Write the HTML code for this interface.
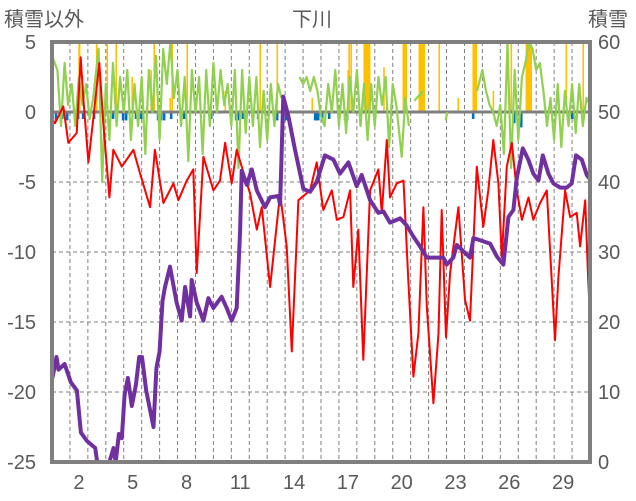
<!DOCTYPE html>
<html><head><meta charset="utf-8"><style>
html,body{margin:0;padding:0;background:#fff;}
svg{display:block;font-family:"Liberation Sans","Noto Sans CJK JP",sans-serif;}
</style></head><body>
<svg id="chart" width="636" height="501" viewBox="0 0 636 501">
<text x="4" y="26" font-size="20" fill="#595959">積雪以外</text>
<text x="312" y="26" font-size="20" fill="#595959" text-anchor="middle">下川</text>
<text x="588" y="26" font-size="20" fill="#595959">積雪</text>
<g id="grid"></g>
<g id="bars"></g>
<g id="lines"></g>
<g id="frame"></g>
<g id="axes"></g>
</svg>
<script>
const leftTicks=[5,0,-5,-10,-15,-20,-25];
const rightTicks=[60,50,40,30,20,10,0];
const dayLabels=[2,5,8,11,14,17,20,23,26,29];
const tempT=[0,0.17,0.63,0.91,1.38,1.6,1.75,2.03,2.31,2.64,2.86,3.2,3.42,3.89,4.54,4.91,5.47,5.74,6.21,6.77,7.05,7.51,7.88,8.07,8.44,9.0,9.37,9.65,10.02,10.3,10.58,11.04,11.42,11.7,12.16,12.72,13.09,13.37,13.74,14.39,14.76,15.13,15.6,15.88,16.25,16.62,16.8,17.08,17.36,17.74,18.2,18.39,18.67,18.85,19.22,19.6,19.87,20.15,20.43,20.71,20.9,21.27,21.55,21.73,21.97,22.2,22.66,23.03,23.31,23.69,24.05,24.33,24.61,24.89,25.08,25.36,25.64,25.92,26.2,26.57,26.84,27.22,27.59,28.05,28.24,28.61,28.89,29.26,29.45,29.73,29.9,30.0];
const tempV=[-0.5,-0.8,0.4,-2.2,-1.5,3.9,0.9,-3.6,-0.4,3.5,-0.8,-6.1,-2.7,-3.9,-2.7,-4.4,-6.8,-2.7,-6.5,-5.1,-6.3,-4.9,-4.1,-11.5,-3.2,-5.6,-4.9,-2.2,-5.1,-2.7,-3.9,-5.8,-8.4,-6.8,-12.5,-5.8,-9.6,-17.1,-6.3,-5.6,-3.6,-7,-5.6,-7.7,-7.5,-5.6,-12.5,-8.4,-17.7,-5.6,-4.1,-7.2,-2,-6.1,-5.1,-4.9,-12,-18.9,-15.8,-6.8,-13.9,-20.8,-15.8,-7,-16.1,-11.5,-6.8,-13.4,-14.9,-3.9,-8.2,-5.6,-2,-5.1,-10.4,-3.9,-2.2,-5.6,-7.7,-6.1,-7.7,-6.5,-5.6,-16.3,-11.8,-5.6,-7.5,-7.2,-9.6,-6.3,-12,-14.6];
const snowT=[0.02,0.25,0.36,0.7,1.05,1.39,1.61,1.95,2.41,2.52,3.2,3.43,3.55,3.73,3.89,4.05,4.23,4.45,4.68,4.86,5.02,5.25,5.66,5.82,6.0,6.16,6.3,6.58,6.95,7.23,7.42,7.7,7.79,8.07,8.44,8.72,9.0,9.46,9.74,10.02,10.3,10.49,10.58,10.86,11.14,11.42,11.88,12.16,12.62,12.72,12.9,13.18,13.55,14.02,14.39,14.76,15.22,15.69,16.06,16.53,16.99,17.27,17.74,18.2,18.48,18.85,19.41,19.78,20.15,20.52,20.9,21.82,22.01,22.38,22.57,23.31,23.5,24.43,24.8,25.17,25.45,25.73,25.92,26.25,26.56,26.84,27.12,27.37,27.68,27.96,28.33,28.7,28.98,29.22,29.54,29.82,30.0];
const snowV=[12,15,13.2,14,11.4,10.2,4.2,3,2,0,0,2,0,4,3.4,9.6,12,8,11,15,15,10.2,5,13.4,15.8,23,25,27.9,22.8,20.2,25,20.8,26,22.8,20.2,23.4,22,23.6,22,20.2,22,33,41.6,39.6,41.8,38.8,36.4,37.8,38,36.8,52.2,49.4,44.6,39,38.6,40,43.8,43.2,41.2,42.8,39.4,41,37.4,35.6,35.8,34.2,34.8,33.8,32.2,30.8,29.2,29.2,28.2,29.2,31,29.2,32,31.2,29.4,28.2,35,36,40.6,44.8,43.2,41.2,40.2,43.8,41.2,39.8,39.2,39.2,39.8,43.8,43.2,41,40.4];
const greenT=[0,0.3,0.5,0.7,0.9,1.1,1.3,1.5,1.7,1.9,2.1,2.3,2.6,2.8,3.0,3.2,3.4,3.6,3.8,4.0,4.2,4.4,4.6,4.8,5.0,5.2,5.4,5.6,5.8,6.0,6.2,6.4,6.6,6.8,7.0,7.2,7.4,7.6,7.8,8.0,8.2,8.4,8.6,8.8,9.0,9.2,9.4,9.6,9.8,10.0,10.2,10.4,10.6,10.8,11.0,11.2,11.4,11.6,11.8,12.0,12.2,12.4,12.6,12.8,13.2,13.8,14.0,14.2,14.4,14.6,14.8,15.0,15.2,15.4,15.6,15.8,16.0,16.2,16.4,16.6,16.8,17.0,17.2,17.4,17.6,17.8,18.0,18.2,18.4,18.6,18.8,19.0,19.2,19.5,19.7,19.9,20.05,20.2,20.7,21.3,21.95,22.05,23.0,23.7,23.8,24.0,24.2,24.4,24.6,24.8,25.0,25.2,25.4,25.6,25.8,26.0,26.2,26.4,26.6,26.8,27.0,27.2,27.4,27.6,27.8,28.0,28.2,28.4,28.6,28.8,29.0,29.2,29.4,29.6,29.8,30.0];
const greenV=[4,3,-1,3.5,0.5,2,-1,2.5,0.5,2,-0.5,1,4.5,-5,2,-2,3.5,-1,2.5,0,3,-2,2,-1,2.5,-3,3,0,4,-2,4.5,2,5,1,3,-1,2.5,-3.5,3,0,2.5,-3,3,-1,3.5,0,3,0.5,2,-1,3,-4,3,-1.5,2.5,-1,2.5,-2.5,1.5,-2,2,-1,2,1,null,2.5,2,2.5,1.5,2.5,1.5,-0.3,-1,2,0,3,-1,2,-1.5,2.5,0,3,-1,2,-2,2,-1,2.5,0.5,2.5,-2.5,2,0.5,-3.2,1,-1,null,0.8,1.5,null,-0.6,0,null,1.5,2,3,1.5,0.5,0,-1,0.5,-3,5,-4,3,-2,2.5,3.5,5,4.5,3,3.5,1.5,-1,1,-2,2,-2.5,1.5,-1,2,-1.5,2,-1,1,0.5];
const precipT=[0.56,1.5,1.53,2.48,3.07,3.57,4.46,5.52,5.69,6.58,6.69,7.53,9.65,11.6,12.55,14.5,16.5,16.56,16.67,17.4,17.45,17.5,17.55,17.6,17.65,17.7,18.5,19.58,19.63,19.69,19.74,20.47,20.53,20.58,20.64,20.69,20.75,21.58,22.64,23.48,23.53,23.59,23.65,24.6,25.6,26.44,26.5,26.55,26.6,26.66,26.71,28.67,29.61];
const precipV=[0.8,6,6,6,6,6,2.5,3,6,1,6,6,1.5,6,6,1,3,6,6,6,6,6,6,6,6,6,3.2,6,6,6,6,6,6,6,6,6,6,6,1,6,6,6,6,1.5,6,6,6,6,6,6,6,6,6];
const sunT=[0.22,0.56,0.84,1.45,1.73,2.34,3.4,3.96,4.13,4.68,4.96,5.91,6.08,6.25,6.64,7.36,8.87,10.26,10.37,10.65,11.49,12.55,12.88,13.05,14.67,14.72,14.84,15.06,15.45,16.34,16.45,23.48,25.77,26.16,29.0];
const sunV=[0.6,0.5,0.6,0.5,0.5,0.5,0.5,0.6,0.6,0.5,0.5,0.6,0.6,0.6,0.5,0.5,0.5,0.6,0.6,0.5,0.5,0.6,0.6,0.6,0.6,0.6,0.6,0.6,0.5,0.6,0.6,0.5,0.8,1.1,0.5];

const NS='http://www.w3.org/2000/svg';
const X0=52,X1=590,Y0=42,Y1=462,DAYS=30;
const xs=t=>X0+(X1-X0)*t/DAYS;
const yL=v=>Y1-(v+25)*(Y1-Y0)/30;
const yR=v=>Y1-v*(Y1-Y0)/60;
function mk(tag,attrs,parent){const e=document.createElementNS(NS,tag);for(const k in attrs)e.setAttribute(k,attrs[k]);parent.appendChild(e);return e;}
const grid=document.getElementById('grid'),bars=document.getElementById('bars'),lines=document.getElementById('lines'),axes=document.getElementById('axes'),frame=document.getElementById('frame');
for(let d=1;d<DAYS;d++){const l=mk('line',{x1:xs(d),x2:xs(d),y1:Y0,y2:Y1,stroke:'#7f7f7f','stroke-width':1,'stroke-dasharray':'4,3'},grid);

}
leftTicks.forEach(v=>{if(v===5||v===0||v===-25)return;const l=mk('line',{x1:X0,x2:X1,y1:yL(v),y2:yL(v),stroke:'#7f7f7f','stroke-width':1,'stroke-dasharray':'4,3'},grid);

});
precipT.forEach((t,i)=>{const v=Math.min(precipV[i],5);const r=mk('rect',{x:xs(t)-0.6,y:yL(v),width:1.6,height:yL(0)-yL(v),fill:'#ffc000'},bars);

});
sunT.forEach((t,i)=>{const r=mk('rect',{x:xs(t)-1.2,y:yL(0),width:2.6,height:yL(-sunV[i])-yL(0),fill:'#0070c0'},bars);

});
const z=mk('line',{x1:X0,x2:X1,y1:yL(0),y2:yL(0),stroke:'#7f7f7f','stroke-width':3},bars);


function path(T,V,yf){let d='',pen=false;T.forEach((t,i)=>{const v=V[i];if(v===null){pen=false;return;}d+=(pen?'L':'M')+xs(t).toFixed(1)+','+yf(v).toFixed(1);pen=true;});return d;}
const g=mk('path',{d:path(greenT,greenV,yL),fill:'none',stroke:'#92d050','stroke-width':2.2,'stroke-linejoin':'round'},lines);


const r=mk('path',{d:path(tempT,tempV,yL),fill:'none',stroke:'#ff0000','stroke-width':2,'stroke-linejoin':'round'},lines);


const p=mk('path',{d:path(snowT,snowV,yR),fill:'none',stroke:'#7030a0','stroke-width':4,'stroke-linejoin':'round'},lines);


const fl=mk('line',{x1:X0,x2:X0,y1:Y0-2,y2:Y1+2,stroke:'#7f7f7f','stroke-width':4},frame);


const fr=mk('line',{x1:X1,x2:X1,y1:Y0-2,y2:Y1+2,stroke:'#7f7f7f','stroke-width':4},frame);


const ft=mk('line',{x1:X0-2,x2:X1+2,y1:Y0,y2:Y0,stroke:'#7f7f7f','stroke-width':4},frame);


const fb=mk('line',{x1:X0-2,x2:X1+2,y1:Y1,y2:Y1,stroke:'#7f7f7f','stroke-width':4},frame);


leftTicks.forEach(v=>{const t=mk('text',{x:36,y:yL(v)+7,'font-size':20,fill:'#595959','text-anchor':'end'},axes);t.textContent=v;

});
rightTicks.forEach(v=>{const t=mk('text',{x:598,y:yR(v)+7,'font-size':20,fill:'#595959'},axes);t.textContent=v;

});
dayLabels.forEach(d=>{const t=mk('text',{x:xs(d-0.5),y:489,'font-size':20,fill:'#595959','text-anchor':'middle'},axes);t.textContent=d;

});
</script>
</body></html>
